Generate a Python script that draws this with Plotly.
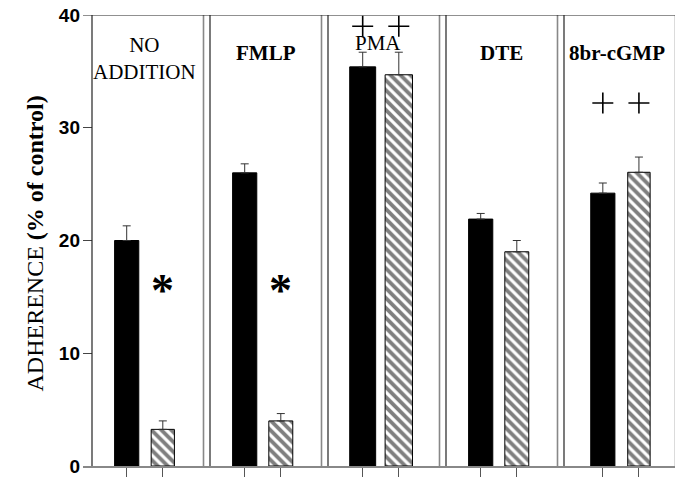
import plotly.graph_objects as go

# ---- data ----
panels = ["NO<br>ADDITION", "<b>FMLP</b>", "PMA", "<b>DTE</b>", "<b>8br-cGMP</b>"]
black_vals = [20.0, 26.0, 35.4, 21.9, 24.2]
black_err = [1.3, 0.8, 1.3, 0.5, 0.9]
hatch_vals = [3.25, 4.0, 34.7, 19.0, 26.05]
hatch_err = [0.75, 0.65, 2.0, 1.0, 1.35]
ytick_vals = [0, 10, 20, 30, 40]
# significance marks: (panel index, which bar, y)
star_marks = [(0, "h", 16.4), (1, "h", 16.4)]
plus_marks = [(2, "b", 39.0), (2, "h", 39.0), (4, "b", 32.2), (4, "h", 32.2)]

# ---- layout constants ----
W, H = 675, 479
L, R, T, B = 83, 0, 15, 13
PITCH = 118.0
PANEL_W = 111.5 / PITCH
panel_shift = [0, 0, 0, 0, 0.035]
bx = [i + 0.294 + panel_shift[i] for i in range(5)]
hx = [i + 0.600 + panel_shift[i] for i in range(5)]
bw = [0.205, 0.205, 0.22, 0.205, 0.205]
hw = [0.197, 0.203, 0.232, 0.203, 0.19]
label_y = [36.1, 36.65, 37.55, 36.65, 36.65]
label_dx = [-0.025, 0, -0.05, 0, -0.02]

x0 = (L - 92) / PITCH
x1 = (W - 92) / PITCH

fig = go.Figure()
fig.add_trace(go.Bar(
    x=bx, y=black_vals, width=bw,
    marker=dict(color="black", line=dict(color="black", width=1)),
    error_y=dict(type="data", symmetric=False, array=black_err,
                 arrayminus=[0] * 5, color="#333", thickness=1, width=4),
    showlegend=False,
))
fig.add_trace(go.Bar(
    x=hx, y=hatch_vals, width=hw,
    marker=dict(color="white", line=dict(color="black", width=1),
                pattern=dict(shape="\\", fgcolor="black", bgcolor="white",
                             size=7, solidity=0.55)),
    error_y=dict(type="data", symmetric=False, array=hatch_err,
                 arrayminus=[0] * 5, color="#333", thickness=1, width=4),
    showlegend=False,
))

# plus marks
fig.add_trace(go.Scatter(
    x=[(bx if w == "b" else hx)[p] for p, w, _ in plus_marks],
    y=[y for _, _, y in plus_marks],
    mode="markers",
    marker=dict(symbol="cross-thin", size=15, line=dict(color="black", width=1.6)),
    showlegend=False, hoverinfo="skip",
))

shapes = []
for i in range(5):
    shapes.append(dict(type="line", xref="x", yref="y", x0=i, x1=i, y0=0, y1=40,
                       line=dict(color="#222", width=1.2)))
    shapes.append(dict(type="line", xref="x", yref="y", x0=i + PANEL_W, x1=i + PANEL_W,
                       y0=0, y1=40, line=dict(color="#888", width=1.6)))
shapes.append(dict(type="line", xref="paper", yref="y", x0=0, x1=1, y0=40, y1=40,
                   line=dict(color="#222", width=1.2)))

annotations = []
for i, lab in enumerate(panels):
    annotations.append(dict(x=i + PANEL_W / 2 + label_dx[i], y=label_y[i], xref="x", yref="y",
                            text=lab, showarrow=False,
                            font=dict(family="Liberation Serif", size=21, color="black")))
for p, w, y in star_marks:
    annotations.append(dict(x=(bx if w == "b" else hx)[p], y=y, xref="x", yref="y",
                            text="<b>*</b>", showarrow=False, yshift=-9,
                            font=dict(family="Liberation Serif", size=46, color="black")))
annotations.append(dict(x=(19.5 - L) / (W - L - R), y=(H - B - 244) / (H - T - B),
                        xref="paper", yref="paper", textangle=-90, showarrow=False,
                        text="ADHERENCE <b>(% of control)</b>",
                        font=dict(family="Liberation Serif", size=24, color="black")))

fig.update_layout(
    width=W, height=H,
    margin=dict(l=L, r=R, t=T, b=B),
    paper_bgcolor="white", plot_bgcolor="white",
    barmode="overlay",
    shapes=shapes, annotations=annotations,
    xaxis=dict(range=[x0, x1], showgrid=False, zeroline=False,
               showline=True, linecolor="#888", linewidth=2,
               tickvals=bx + hx, ticktext=[""] * 10,
               ticks="outside", ticklen=9, tickcolor="#555", tickwidth=1),
    yaxis=dict(range=[0, 40], showgrid=False, zeroline=False, showline=False,
               tickvals=ytick_vals, ticks="inside", ticklen=9, tickcolor="#444",
               tickwidth=1, ticklabelstandoff=2,
               tickfont=dict(family="Liberation Sans", size=19, color="black",
                             weight="bold")),
)

fig.write_html("out.html")
